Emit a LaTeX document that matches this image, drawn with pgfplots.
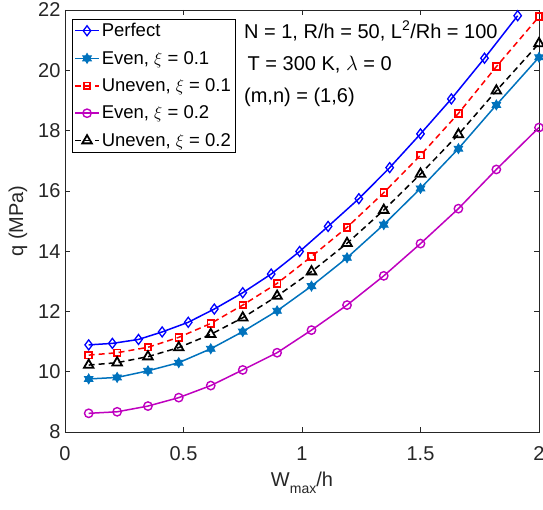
\documentclass[border=0pt]{standalone}
\usepackage{pgfplots}
\pgfplotsset{compat=1.18}
\usepackage{fontspec}
\setmainfont{Liberation Sans}
\definecolor{mblue}{rgb}{0,0,1}
\definecolor{mlblue}{rgb}{0,0.447,0.741}
\definecolor{mred}{rgb}{1,0,0}
\definecolor{mmag}{rgb}{0.75,0,0.75}
\definecolor{axgray}{rgb}{0.15,0.15,0.15}
\pgfdeclareplotmark{hexagram}{%
 \pgfpathmoveto{\pgfqpointpolar{90}{\pgfplotmarksize}}%
 \pgfpathlineto{\pgfqpointpolar{210}{\pgfplotmarksize}}%
 \pgfpathlineto{\pgfqpointpolar{330}{\pgfplotmarksize}}%
 \pgfpathclose
 \pgfpathmoveto{\pgfqpointpolar{270}{\pgfplotmarksize}}%
 \pgfpathlineto{\pgfqpointpolar{30}{\pgfplotmarksize}}%
 \pgfpathlineto{\pgfqpointpolar{150}{\pgfplotmarksize}}%
 \pgfpathclose
 \pgfusepathqfillstroke}
\begin{document}
\begin{tikzpicture}
\begin{axis}[name=ax,
  scale only axis, width=474pt, height=422pt,
  xmin=0, xmax=2, ymin=8, ymax=22,
  xtick={0,0.5,1,1.5,2}, ytick={8,10,...,22},
  xticklabels={0,0.5,1,1.5,2},
  tick align=inside, major tick length=5pt,
  axis line style={axgray, line width=0.6pt},
  tick style={axgray, line width=0.6pt},
  every tick label/.append style={font=\fontsize{20}{22}\selectfont, text=axgray},
  xticklabel style={yshift=-11pt},
  yticklabel style={xshift=-1pt},
  /pgf/number format/assume math mode=true,
  xlabel={W\raisebox{-7pt}{\fontsize{14}{14}\selectfont max}/h},
  ylabel={q (MPa)},
  label style={font=\fontsize{20}{22}\selectfont, text=axgray},
  xlabel style={yshift=-4pt},
  ylabel style={yshift=4pt},
  legend cell align=left,
  legend style={at={(0,1)}, anchor=north west, xshift=7pt, yshift=-9pt,
    font=\fontsize{18.5}{20}\selectfont, draw=black, line width=0.6pt,
    inner sep=2pt, row sep=9pt},
  legend image code/.code={\draw[mark repeat=2,mark phase=2] plot coordinates {(0pt,0pt)(12pt,0pt)(24pt,0pt)};},
  clip=false,
]
\addplot[mblue, line width=1.5pt, mark=diamond, mark size=5pt, mark options={solid, fill=white, line width=1.3pt}] coordinates {
(0.10,10.89)(0.20,10.94)(0.31,11.07)(0.41,11.32)(0.52,11.64)(0.63,12.08)(0.75,12.62)(0.87,13.24)(0.99,13.99)(1.11,14.82)(1.24,15.74)(1.37,16.77)(1.50,17.89)(1.63,19.05)(1.77,20.40)(1.91,21.81)};
\addlegendentry{Perfect}
\addplot[mlblue, line width=1.5pt, mark=hexagram, mark size=5pt, mark options={solid, fill=mlblue, line width=0.8pt}] coordinates {
(0.10,9.76)(0.22,9.81)(0.35,10.03)(0.48,10.30)(0.615,10.76)(0.75,11.33)(0.895,12.02)(1.04,12.84)(1.19,13.78)(1.345,14.88)(1.50,16.08)(1.66,17.40)(1.82,18.85)(2.0,20.43)};
\addlegendentry{Even, $\xi$ = 0.1}
\addplot[mred, line width=1.5pt, dash pattern=on 6pt off 4pt, mark=square, mark size=3.3pt, mark options={solid, fill=white, line width=1.8pt}] coordinates {
(0.10,10.55)(0.22,10.63)(0.35,10.81)(0.48,11.14)(0.615,11.60)(0.75,12.21)(0.895,12.93)(1.04,13.82)(1.19,14.79)(1.345,15.94)(1.50,17.18)(1.66,18.57)(1.82,20.12)(2.0,21.78)};
\addlegendentry{Uneven, $\xi$ = 0.1}
\addplot[mmag, line width=1.5pt, mark=o, mark size=4.2pt, mark options={solid, fill=white, line width=1.4pt}] coordinates {
(0.10,8.62)(0.22,8.67)(0.35,8.86)(0.48,9.14)(0.615,9.54)(0.75,10.06)(0.895,10.63)(1.04,11.38)(1.19,12.21)(1.345,13.18)(1.50,14.25)(1.66,15.41)(1.82,16.71)(2.0,18.10)};
\addlegendentry{Even, $\xi$ = 0.2}
\addplot[black, line width=1.5pt, dash pattern=on 6pt off 4pt, mark=triangle, mark size=5.5pt, mark options={solid, fill=white, line width=1.8pt}] coordinates {
(0.10,10.22)(0.22,10.30)(0.35,10.50)(0.48,10.80)(0.615,11.24)(0.75,11.79)(0.895,12.51)(1.04,13.32)(1.19,14.26)(1.345,15.36)(1.50,16.56)(1.66,17.87)(1.82,19.32)(2.0,20.89)};
\addlegendentry{Uneven, $\xi$ = 0.2}
\node[anchor=west, font=\fontsize{20}{22}\selectfont, inner sep=0pt] at (axis cs:0.755,21.30) {N = 1, R/h = 50, L\textsuperscript{2}/Rh = 100};
\node[anchor=west, font=\fontsize{20}{22}\selectfont, inner sep=0pt] at (axis cs:0.77,20.20) {T = 300 K, $\lambda$ = 0};
\node[anchor=west, font=\fontsize{20}{22}\selectfont, inner sep=0pt] at (axis cs:0.755,19.10) {(m,n) = (1,6)};
\end{axis}
\pgfresetboundingbox
\path ([xshift=-65pt,yshift=-78pt]ax.south west) rectangle ([xshift=4pt,yshift=10pt]ax.north east);
\end{tikzpicture}
\end{document}
